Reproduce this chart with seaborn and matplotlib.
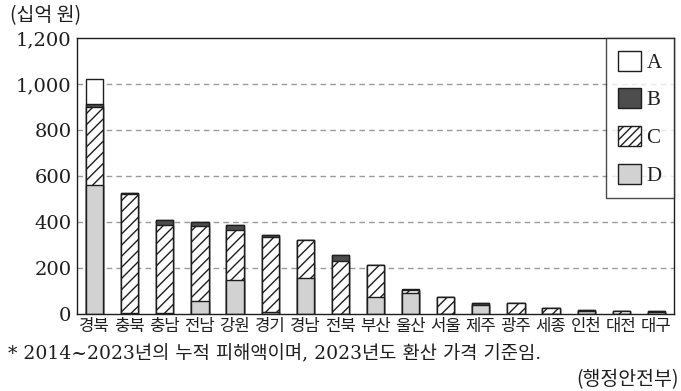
import matplotlib
matplotlib.use("Agg")
import matplotlib.pyplot as plt
from matplotlib.patches import Patch
from matplotlib.ticker import FuncFormatter, FixedLocator
import seaborn as sns
import pandas as pd
import numpy as np

# Cumulative damage by region (billion won), split into four categories
regions = ['경북', '충북', '충남', '전남', '강원', '경기', '경남', '전북', '부산',
           '울산', '서울', '제주', '광주', '세종', '인천', '대전', '대구']
D = [560, 3, 3, 58, 148, 7, 155, 2, 75, 93, 0, 40, 0, 0, 11, 0, 9]
C = [340, 519, 385, 326, 217, 329, 168, 230, 138, 12, 75, 0, 49, 25, 0, 14, 0]
B = [15, 5, 22, 15, 22, 7, 0, 26, 0, 0, 0, 10, 0, 0, 6, 0, 4]
A = [105, 0, 0, 0, 0, 0, 0, 0, 0, 5, 0, 0, 0, 0, 0, 0, 0]
y_ticks = [0, 200, 400, 600, 800, 1000, 1200]

df = pd.DataFrame({'region': regions, 'A': A, 'B': B, 'C': C, 'D': D})
df['top_D'] = df['D']
df['top_C'] = df['top_D'] + df['C']
df['top_B'] = df['top_C'] + df['B']
df['top_A'] = df['top_B'] + df['A']

sns.set_style("white")
plt.rcParams['font.family'] = ['Noto Sans CJK KR', 'DejaVu Sans']
plt.rcParams['hatch.linewidth'] = 1.0
mixed = ['DejaVu Serif', 'Noto Sans CJK KR']

W, H = 681, 391
fig = plt.figure(figsize=(W / 100, H / 100), dpi=100)
ax = fig.add_axes([77 / W, 1 - 314 / H, (674 - 77) / W, (314 - 38) / H])

ink = '#1e1e1e'
light = '#d2d2d2'
dark = '#4d4d4d'
bw = 0.49

# stacked bars drawn as overlapping cumulative layers, tallest first
layers = [
    ('top_A', dict(color='white')),
    ('top_B', dict(color=dark)),
    ('top_C', dict(color='white', hatch='///')),
    ('top_D', dict(color=light)),
]
for col, style in layers:
    sns.barplot(data=df, x='region', y=col, ax=ax, width=bw, saturation=1,
                errorbar=None, edgecolor=ink, linewidth=1.0, **style)

ax.set_xlabel('')
ax.set_ylabel('')
ax.set_xlim(-0.5, len(regions) - 0.5)
ax.set_ylim(0, 1200)

# grid
for v in y_ticks[1:-1]:
    ax.axhline(v, color='#9a9a9a', lw=1.0, ls=(0, (4, 3)), zorder=0)

for s in ax.spines.values():
    s.set_color(ink)
    s.set_linewidth(1.0)

ax.yaxis.set_major_locator(FixedLocator(y_ticks))
ax.yaxis.set_major_formatter(FuncFormatter(lambda v, p: f'{int(v):,}'))
ax.tick_params(axis='y', direction='in', length=3, width=0.8, color=ink,
               pad=4, labelsize=14, labelcolor=ink)
for lbl in ax.get_yticklabels():
    lbl.set_fontfamily('DejaVu Serif')

ax.set_xticks(range(len(regions)))
ax.set_xticklabels(regions, fontsize=12, color=ink)
ax.tick_params(axis='x', which='major', length=0, pad=3)
ax.set_xticks(np.arange(0.5, len(regions) - 1, 1.0), minor=True)
ax.tick_params(axis='x', which='minor', direction='in', length=5, width=0.8,
               color=ink)

handles = [
    Patch(facecolor='white', edgecolor=ink, label='A'),
    Patch(facecolor=dark, edgecolor=ink, label='B'),
    Patch(facecolor='white', edgecolor=ink, hatch='////', label='C'),
    Patch(facecolor=light, edgecolor=ink, label='D'),
]
leg = ax.legend(handles=handles, loc='upper right', borderaxespad=0,
                frameon=True, fancybox=False, edgecolor=ink,
                handlelength=1.1, handleheight=1.1, handletextpad=0.25,
                labelspacing=0.75, borderpad=0.6,
                prop={'family': 'Liberation Serif', 'size': 15})
leg.get_frame().set_linewidth(1.0)
for t in leg.get_texts():
    t.set_color(ink)

fig.text(10 / W, 1 - 16 / H, '(십억 원)', fontsize=14, color=ink,
         ha='left', va='center')
fig.text(8 / W, 1 - 354 / H,
         '* 2014~2023년의 누적 피해액이며, 2023년도 환산 가격 기준임.',
         fontsize=13.5, color=ink, ha='left', va='center', family=mixed)
fig.text(679 / W, 1 - 380 / H, '(행정안전부)', fontsize=14, color=ink,
         ha='right', va='center')

fig.savefig('out.png', dpi=100)
